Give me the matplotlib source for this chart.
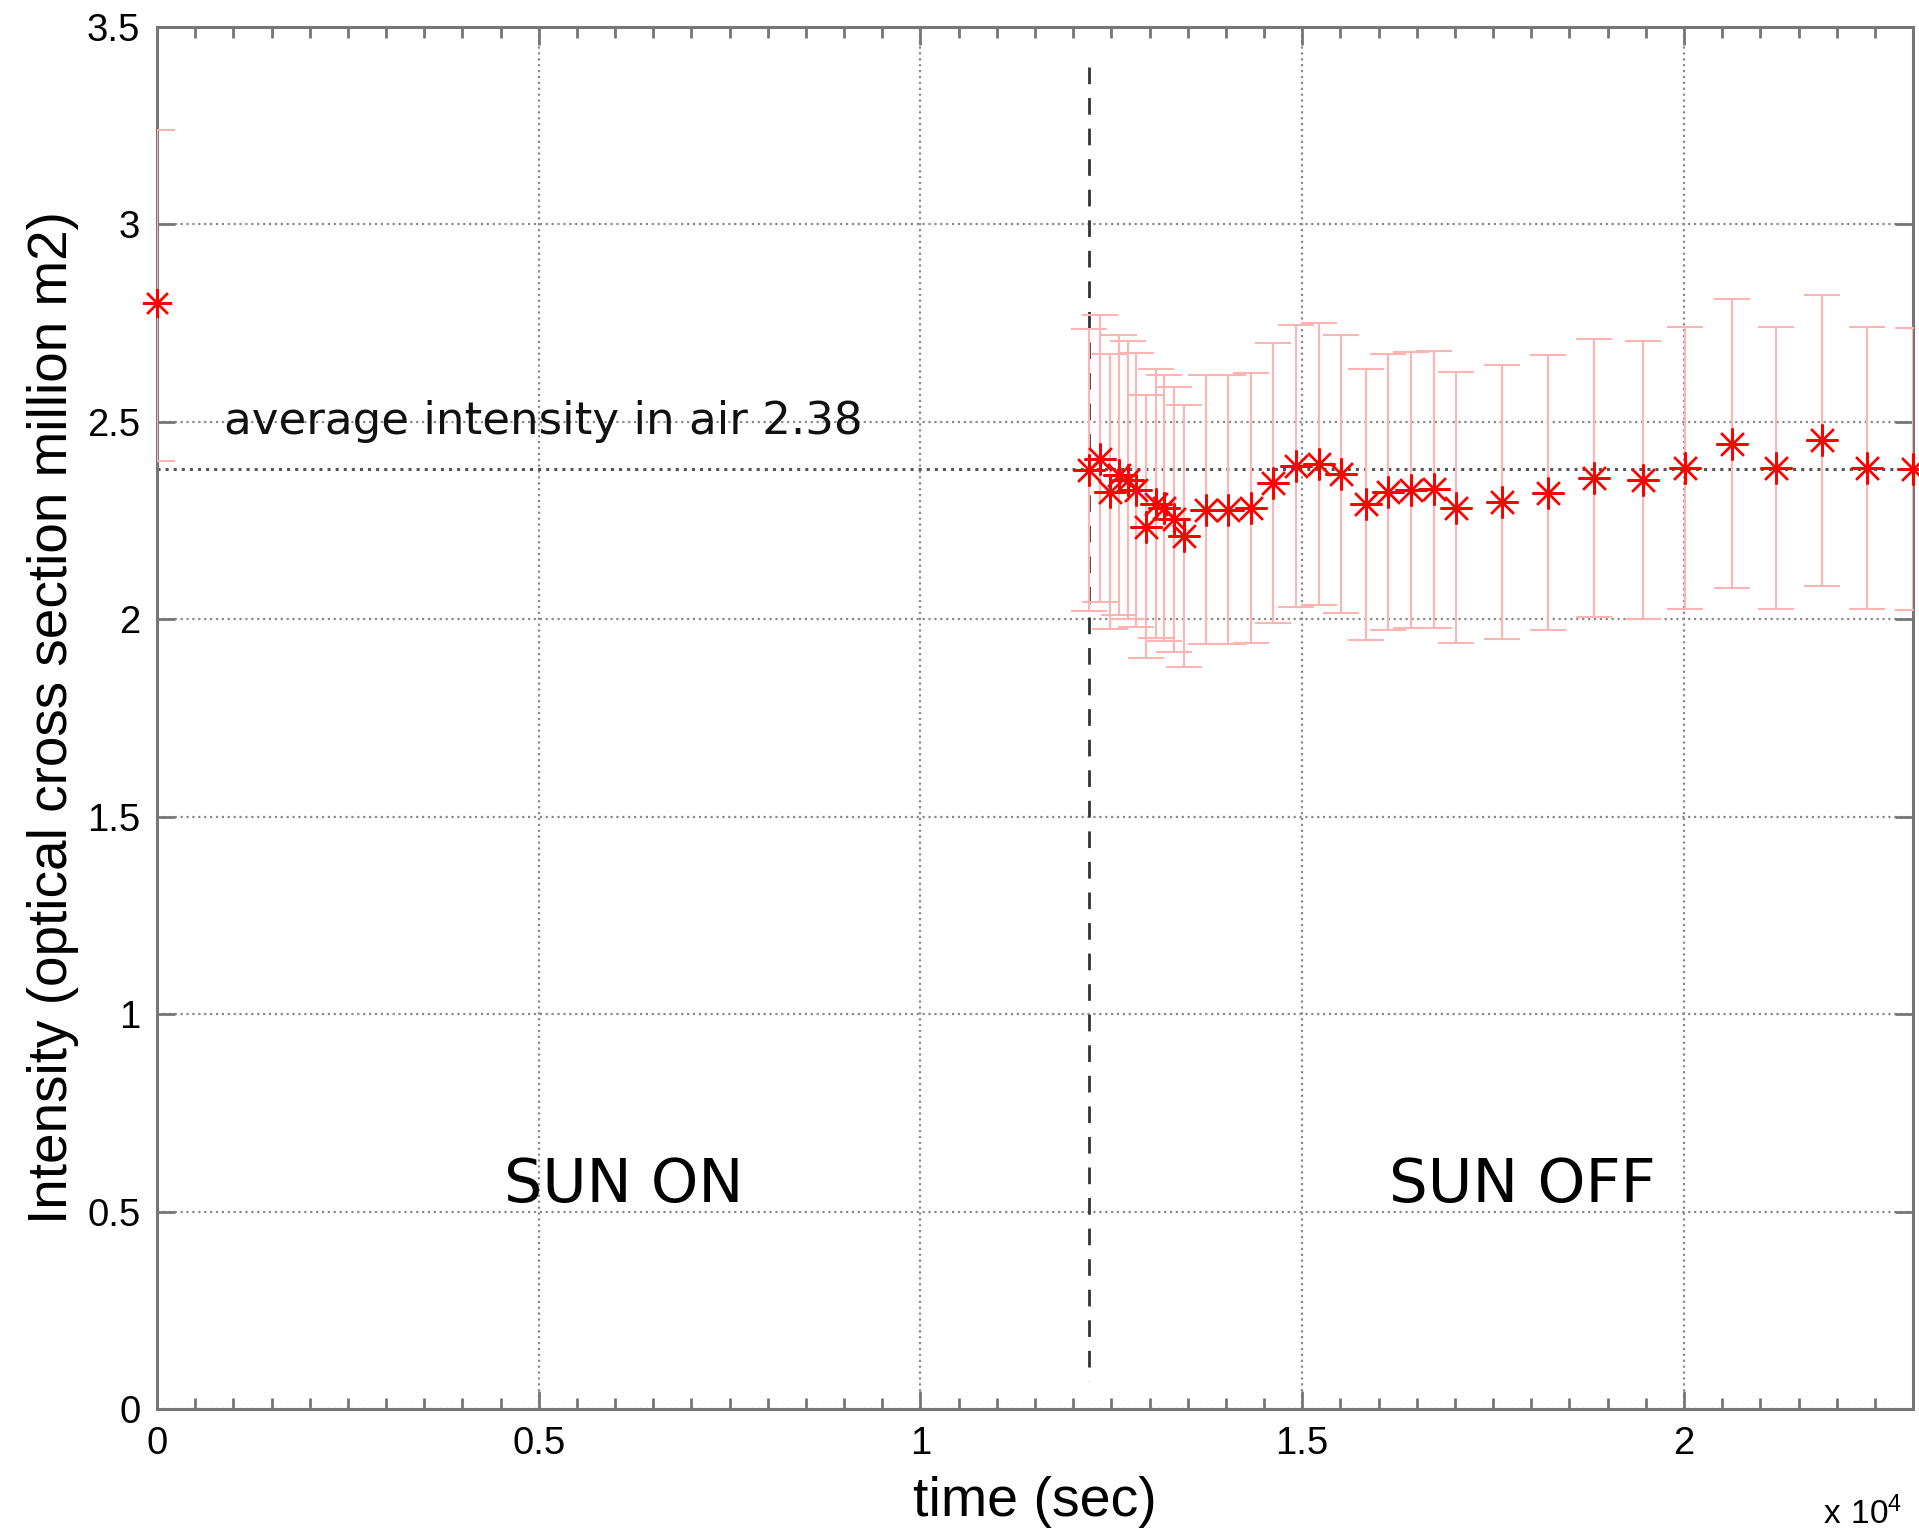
import numpy as np
import matplotlib
matplotlib.use("Agg")
import matplotlib.pyplot as plt
from matplotlib.ticker import MultipleLocator

plt.rcParams['font.family'] = ['Liberation Sans', 'DejaVu Sans']

# sun on: single measurement at t = 0
t_on = [0]
val_on = [2.80]
err_on_lo = [0.40]
err_on_hi = [0.44]

# sun off series
t_off = [12208, 12348, 12479, 12601, 12719, 12819, 12950, 13081, 13186, 13317,
         13448, 13736, 14028, 14325, 14617, 14923, 15215, 15512, 15831, 16123,
         16420, 16721, 17019, 17621, 18218, 18816, 19462, 20008, 20628, 21208,
         21806, 22396, 23000]
val_off = [2.379, 2.407, 2.323, 2.365, 2.354, 2.327, 2.234, 2.293, 2.283, 2.253,
           2.210, 2.278, 2.278, 2.282, 2.345, 2.388, 2.393, 2.369, 2.291, 2.322,
           2.327, 2.329, 2.283, 2.297, 2.321, 2.359, 2.354, 2.383, 2.445, 2.383,
           2.453, 2.383, 2.381]
err_off = [0.357, 0.363, 0.348, 0.355, 0.352, 0.347, 0.333, 0.340, 0.337, 0.336,
           0.332, 0.340, 0.340, 0.343, 0.354, 0.357, 0.358, 0.352, 0.344, 0.349,
           0.349, 0.350, 0.344, 0.346, 0.348, 0.352, 0.352, 0.357, 0.366, 0.357,
           0.368, 0.357, 0.357]

avg_air = 2.38
t_switch = 12208

xticks = [0, 5000, 10000, 15000, 20000]
xticklabels = ['0', '0.5', '1', '1.5', '2']
yticks = [0, 0.5, 1, 1.5, 2, 2.5, 3, 3.5]
yticklabels = ['0', '0.5', '1', '1.5', '2', '2.5', '3', '3.5']

fig = plt.figure(figsize=(19.19, 15.29), dpi=100)
ax = fig.add_axes([0.0818, 0.0785, 0.9151, 0.9038])

pink = '#ffb4b4'
star = (8, 2, 0)

ax.errorbar(t_on, val_on, yerr=[err_on_lo, err_on_hi], fmt='none', ecolor=pink,
            elinewidth=1.5, capsize=13, capthick=1.5, zorder=3)
ax.errorbar(t_off, val_off, yerr=err_off, fmt='none', ecolor=pink,
            elinewidth=1.5, capsize=13, capthick=1.5, zorder=3)
ax.plot(t_on, val_on, linestyle='none', marker=star, markersize=21,
        markeredgewidth=1.7, color='red', clip_on=False, zorder=4)
ax.plot(t_off, val_off, linestyle='none', marker=star, markersize=23,
        markeredgewidth=1.7, color='red', clip_on=False, zorder=4)

# average line and sun switch marker
ax.axhline(avg_air, color='#555555', linestyle=':', linewidth=2.2, zorder=2)
ax.plot([t_switch, t_switch], [3.4, 0.07], color='#333333', linewidth=2,
        dashes=(6, 5), zorder=2)

ax.text(880, 2.5, 'average intensity in air 2.38', family='DejaVu Sans',
        fontsize=32.5, va='center', ha='left', color='#111111')
ax.text(4544, 0.566, 'SUN ON', family='DejaVu Sans', fontsize=43.5,
        va='center', ha='left')
ax.text(16132, 0.566, 'SUN OFF', family='DejaVu Sans', fontsize=44,
        va='center', ha='left')

ax.set_xlim(0, 23000)
ax.set_ylim(0, 3.5)
ax.set_xticks(xticks)
ax.set_xticklabels(xticklabels)
ax.set_yticks(yticks)
ax.set_yticklabels(yticklabels)
ax.xaxis.set_minor_locator(MultipleLocator(500))

ax.grid(True, which='major', linestyle=':', color='#8a8a8a', linewidth=1.6)
ax.set_axisbelow(True)

for s in ax.spines.values():
    s.set_color('#767676')
    s.set_linewidth(2.2)
ax.tick_params(which='both', direction='in', top=True, right=True,
               color='#767676', labelsize=27.5, width=2)
ax.tick_params(which='major', length=13, pad=12)
ax.tick_params(which='minor', length=8)

ax.set_xlabel('time (sec)', fontsize=40, labelpad=10)
ax.set_ylabel('Intensity (optical cross section million m2)', fontsize=39.5,
              labelpad=6)

fig.text(0.95, 1 - 1524 / 1529, r'$\mathregular{x\ 10^{4}}$', fontsize=24,
         va='baseline', ha='left')

fig.savefig('out.png', dpi=100)
